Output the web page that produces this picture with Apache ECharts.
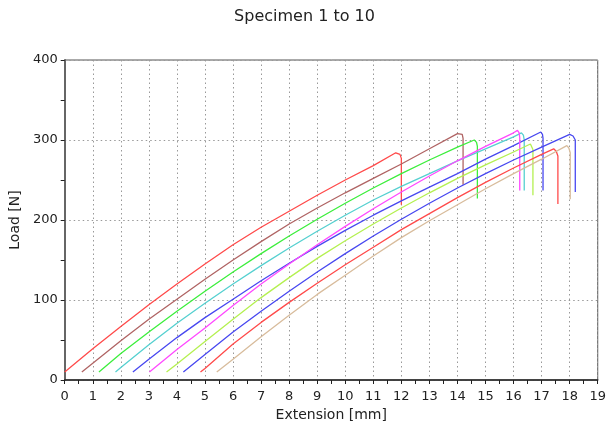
<!DOCTYPE html>
<html>
<head>
<meta charset="utf-8">
<script src="https://cdn.jsdelivr.net/npm/echarts@6/dist/echarts.min.js"></script>
<style>
html,body{margin:0;padding:0;background:#fff;}
#chart{width:609px;height:435px;}
</style>
</head>
<body>
<div id="chart"></div>
<script>
//specimen curves, [extension mm, load N]
var specimen1 = [[0,10],[1,39],[2,67],[3,94],[4,120],[5,145],[6,169],[7,191],[8,211],[9,231],[10,250],[11,268],[11.8,284],[11.95,282],[12.0,277],[12.0,219]];
var specimen2 = [[0.61,10],[1,21],[2,49],[3,76],[4,101],[5,126],[6,150],[7,173],[8,195],[9,215],[10,234],[11,252],[12,270],[13,289],[14,308],[14.07,310],[14.17,307],[14.2,302],[14.2,244]];
var specimen3 = [[1.22,10],[2,33],[3,60],[4,86],[5,111],[6,135],[7,158],[8,180],[9,201],[10,221],[11,240],[12,258],[13,275],[14,291],[14.6,300],[14.68,297],[14.71,292],[14.71,227]];
var specimen4 = [[1.81,10],[2,15.5],[3,44],[4,71],[5,96],[6,120],[7,143],[8,165],[9,186],[10,206],[11,225],[12,242],[13,258],[14,274],[15,289],[16,304],[16.28,309],[16.35,306],[16.38,300],[16.38,237]];
var specimen5 = [[2.43,10],[3,26],[4,53],[5,78],[6,101],[7,124],[8,146],[9,167],[10,187],[11,206],[12,224],[13,241],[14,258],[15,276],[16,293],[16.97,310],[17.03,307],[17.05,302],[17.05,237]];
var specimen6 = [[3.02,10],[4,38],[5,65],[6,93],[7,120],[8,145],[9,169],[10,192],[11,214],[12,235],[13,255],[14,274],[15,292],[16,309],[16.14,312],[16.2,309],[16.22,303],[16.22,237]];
var specimen7 = [[3.63,10],[4,20],[5,48],[6,76],[7,103],[8,128],[9,152],[10,174],[11,195],[12,215],[13,234],[14,252],[15,269],[16,285],[16.6,295],[16.64,293],[16.69,288],[16.69,231]];
var specimen8 = [[4.23,10],[5,32],[6,60],[7,86],[8,111],[9,135],[10,158],[11,180],[12,201],[13,221],[14,240],[15,258],[16,275],[17,291],[18,307],[18.12,305],[18.2,300],[18.2,235]];
var specimen9 = [[4.84,10],[5,14.5],[6,45],[7,72],[8,97],[9,121],[10,144],[11,166],[12,188],[13,208],[14,228],[15,247],[16,265],[17,282],[17.43,289],[17.52,286],[17.58,280],[17.58,220]];
var specimen10 = [[5.42,10],[6,26],[7,54],[8,81],[9,107],[10,131],[11,155],[12,178],[13,199],[14,219],[15,239],[16,258],[17,276],[17.9,293],[17.97,290],[18.02,284],[18.02,226]];

var specimens = [specimen1,specimen2,specimen3,specimen4,specimen5,specimen6,specimen7,specimen8,specimen9,specimen10];
var colors = ['#ff4a4a','#b06464','#3cee3c','#55d0d0','#4848f0','#ff48ff','#b4f050','#4848f0','#ff4a4a','#d8bc9c'];

var chart = echarts.init(document.getElementById('chart'));
var series = [];
for (var i = 0; i < specimens.length; i++) {
	series.push({
		name: 'Specimen ' + (i + 1),
		type: 'line',
		data: specimens[i],
		showSymbol: false,
		smooth: false,
		lineStyle: {color: colors[i], width: 1.3},
		z: 3
	});
}
var option = {
	animation: false,
	textStyle: {fontFamily: 'DejaVu Sans'},
	title: {
		text: 'Specimen 1 to 10',
		left: 'center',
		top: 4,
		textStyle: {fontSize: 16, fontWeight: 'normal', color: '#222', fontFamily: 'DejaVu Sans'}
	},
	grid: {left: 63, right: 6, top: 60, bottom: 55, show: true, borderColor: '#555', borderWidth: 1},
	xAxis: {
		type: 'value',
		min: 0, max: 19, interval: 1,
		name: 'Extension [mm]',
		nameLocation: 'middle',
		nameGap: 27,
		nameTextStyle: {fontSize: 14, color: '#222'},
		axisLine: {lineStyle: {color: '#222', width: 1.5}},
		axisTick: {length: 4, lineStyle: {color: '#222'}},
		minorTick: {show: true, splitNumber: 2, length: 4, lineStyle: {color: '#222'}},
		axisLabel: {fontSize: 13, color: '#222', margin: 10},
		splitLine: {show: true, lineStyle: {color: '#999', type: [1.5, 3], width: 1}}
	},
	yAxis: {
		type: 'value',
		min: 0, max: 400, interval: 100,
		name: 'Load [N]',
		nameLocation: 'middle',
		nameGap: 40,
		nameTextStyle: {fontSize: 14, color: '#222'},
		axisLine: {show: true, lineStyle: {color: '#666', width: 2}},
		axisTick: {show: true, length: 4, lineStyle: {color: '#222'}},
		minorTick: {show: true, splitNumber: 2, length: 4, lineStyle: {color: '#222'}},
		axisLabel: {fontSize: 13, color: '#222', margin: 7},
		splitLine: {show: true, lineStyle: {color: '#999', type: [1.5, 3], width: 1}}
	},
	series: series
};
chart.setOption(option);
</script>
</body>
</html>
